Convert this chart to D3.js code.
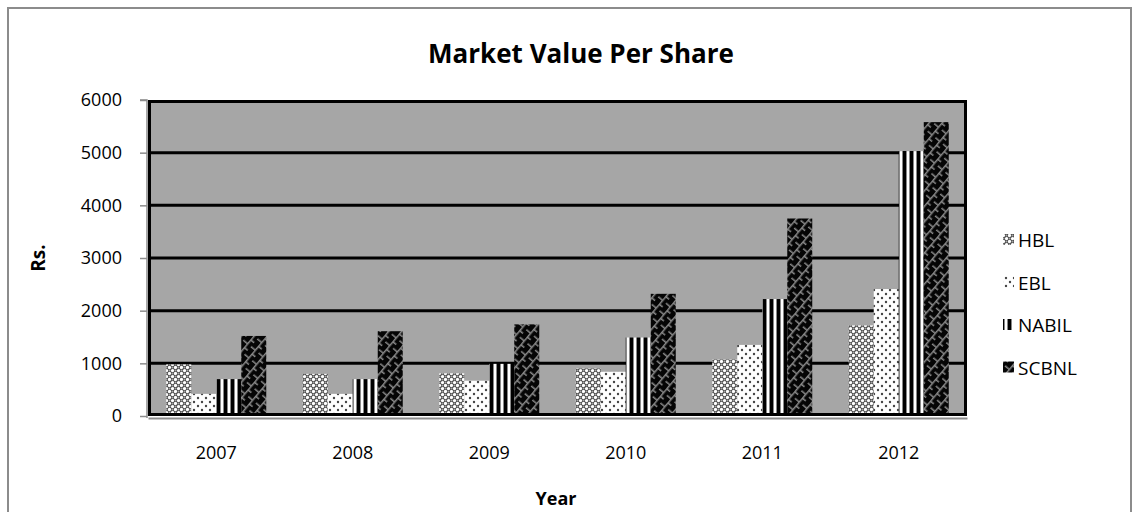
<!DOCTYPE html>
<html><head><meta charset="utf-8">
<script src="https://cdn.jsdelivr.net/npm/d3@7/dist/d3.min.js"></script>
<style>
html,body{margin:0;padding:0;background:#fff;}
svg{display:block;font-family:"Open Sans","Noto Sans",sans-serif;}
</style></head>
<body><svg id="c" width="1139" height="512"></svg>
<script>
const years = ["2007","2008","2009","2010","2011","2012"];
const seriesNames = ["HBL","EBL","NABIL","SCBNL"];
const hbl   = [980, 800, 810, 900, 1070, 1720];
const ebl   = [420, 420, 670, 840, 1350, 2410];
const nabil = [700, 700, 990, 1490, 2220, 5030];
const scbnl = [1520, 1610, 1740, 2320, 3750, 5580];
const yTicks = [0,1000,2000,3000,4000,5000,6000];
const seriesValues = [hbl, ebl, nabil, scbnl];

const svg = d3.select("#c");
const defs = svg.append("defs");

// HBL pattern: gray lattice with white diamonds
let p = defs.append("pattern").attr("id","p0").attr("patternUnits","userSpaceOnUse").attr("width",6).attr("height",6);
p.append("rect").attr("width",6).attr("height",6).attr("fill","#4a4a4a");
p.append("circle").attr("cx",1.5).attr("cy",1.5).attr("r",1.6).attr("fill","#ffffff");
p.append("circle").attr("cx",4.5).attr("cy",4.5).attr("r",1.6).attr("fill","#ffffff");
p.append("circle").attr("cx",4.5).attr("cy",1.5).attr("r",1.0).attr("fill","#a8a8a8");
p.append("circle").attr("cx",1.5).attr("cy",4.5).attr("r",1.0).attr("fill","#a8a8a8");

// EBL pattern: white with sparse dots
p = defs.append("pattern").attr("id","p1").attr("patternUnits","userSpaceOnUse").attr("width",8).attr("height",8);
p.append("rect").attr("width",8).attr("height",8).attr("fill","#ffffff");
p.append("circle").attr("cx",2).attr("cy",2).attr("r",1.2).attr("fill","#444");
p.append("circle").attr("cx",6).attr("cy",6).attr("r",1.2).attr("fill","#444");

// NABIL: vertical stripes
p = defs.append("pattern").attr("id","p2").attr("patternUnits","userSpaceOnUse").attr("width",7).attr("height",7);
p.append("rect").attr("width",7).attr("height",7).attr("fill","#ffffff");
p.append("rect").attr("x",0).attr("width",3).attr("height",7).attr("fill","#000");
p.append("rect").attr("x",3).attr("width",1).attr("height",7).attr("fill","#888");
p.append("rect").attr("x",6).attr("width",1).attr("height",7).attr("fill","#888");

// SCBNL: black weave/brick diagonal
p = defs.append("pattern").attr("id","p3").attr("patternUnits","userSpaceOnUse").attr("width",10).attr("height",10)
  .attr("patternTransform","rotate(-50)");
p.append("rect").attr("width",10).attr("height",10).attr("fill","#050505");
p.append("line").attr("x1",0).attr("y1",0.75).attr("x2",10).attr("y2",0.75).attr("stroke","#8a8a8a").attr("stroke-width",1.5);
p.append("line").attr("x1",0.75).attr("y1",0).attr("x2",0.75).attr("y2",5).attr("stroke","#8a8a8a").attr("stroke-width",1.5);
p.append("line").attr("x1",5.75).attr("y1",5).attr("x2",5.75).attr("y2",10).attr("stroke","#8a8a8a").attr("stroke-width",1.5);

const fills = ["url(#p0)","url(#p1)","url(#p2)","url(#p3)"];

// outer border
svg.append("rect").attr("x",8).attr("y",8).attr("width",1123).attr("height",520)
  .attr("fill","#fff").attr("stroke","#8c8c8c").attr("stroke-width",2);

const L = 148, R = 967, T = 100, B = 416;
const x0 = d3.scaleBand().domain(years).range([L, R]).paddingInner(0).paddingOuter(0);
const x1 = d3.scaleBand().domain(seriesNames).range([0, x0.bandwidth()]).paddingInner(0).paddingOuter(0.73);
const y = d3.scaleLinear().domain([0, 6000]).range([B, T]);

// plot background
svg.append("rect").attr("x",L).attr("y",T).attr("width",R-L).attr("height",B-T).attr("fill","#a6a6a6");

// gridlines
svg.append("g").selectAll("line").data(yTicks.filter(d=>d>0 && d<6000)).join("line")
  .attr("x1",L).attr("x2",R).attr("y1",d=>y(d)).attr("y2",d=>y(d))
  .attr("stroke","#000").attr("stroke-width",3);

// bars
const g = svg.append("g");
years.forEach((yr, i) => {
  seriesNames.forEach((s, j) => {
    const v = seriesValues[j][i];
    g.append("rect")
      .attr("x", x0(yr) + x1(s))
      .attr("y", y(v))
      .attr("width", x1.bandwidth())
      .attr("height", y(0) - y(v))
      .attr("fill", fills[j]);
  });
});

// frame
svg.append("rect").attr("x",L+1.5).attr("y",T+1.5).attr("width",R-L-3).attr("height",B-T-3)
  .attr("fill","none").attr("stroke","#000").attr("stroke-width",3);

// axes (gray)
const yAxis = d3.axisLeft(y).tickValues(yTicks).tickFormat(d3.format("d")).tickSize(7).tickPadding(18);
const ya = svg.append("g").attr("transform",`translate(${L-1},0)`).call(yAxis);
ya.attr("font-size",null).attr("font-family",null);
ya.select(".domain").attr("stroke","#8c8c8c").attr("stroke-width",1.5).attr("d",`M-7,${T}H0V${B+2}`);
ya.selectAll(".tick line").attr("stroke","#8c8c8c").attr("stroke-width",1.5);
ya.selectAll(".tick text").attr("font-size",18).attr("fill","#000");

const xAxis = d3.axisBottom(x0).tickSize(0).tickPadding(28);
const xa = svg.append("g").attr("transform",`translate(0,${B+2})`).call(xAxis);
xa.attr("font-size",null).attr("font-family",null);
xa.select(".domain").attr("stroke","#8c8c8c").attr("stroke-width",2);
xa.selectAll(".tick text").attr("font-size",18).attr("fill","#000");

// title
svg.append("text").attr("x",581).attr("y",63).attr("text-anchor","middle")
  .attr("font-size",26).attr("font-weight","bold").text("Market Value Per Share");
// axis titles
svg.append("text").attr("x",556).attr("y",505).attr("text-anchor","middle")
  .attr("font-size",18).attr("font-weight","bold").text("Year");
svg.append("text").attr("transform","translate(45,258) rotate(-90)").attr("text-anchor","middle")
  .attr("font-size",19).attr("font-weight","bold").text("Rs.");

// legend
const lg = svg.append("g");
seriesNames.forEach((s, j) => {
  const ly = 240 + j*42.5;
  lg.append("rect").attr("x",1003).attr("y",ly-6).attr("width",11).attr("height",11).attr("fill",fills[j]);
  lg.append("text").attr("x",1018).attr("y",ly+7).attr("font-size",19).text(s);
});
</script></body></html>
